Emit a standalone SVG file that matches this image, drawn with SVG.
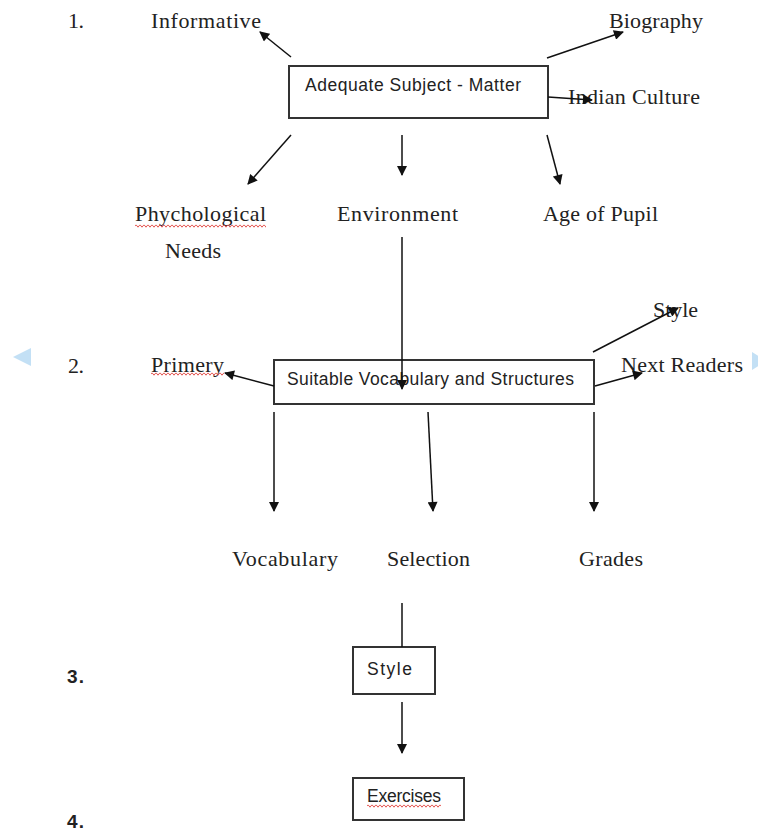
<svg xmlns="http://www.w3.org/2000/svg" width="758" height="832" viewBox="0 0 758 832">
  <style>
    .serif { font-family: "Liberation Serif", "Times New Roman", serif; font-size: 22px; fill: #222; }
    .boxtext { font-family: "Liberation Sans", Arial, sans-serif; font-size: 17.5px; fill: #222; }
    .num { font-family: "Liberation Sans", Arial, sans-serif; font-size: 19px; font-weight: bold; fill: #222; }
    .box { fill: #fff; stroke: #333; stroke-width: 2; }
    .conn { fill: none; stroke: #111; stroke-width: 1.5; }
    .arrow { marker-end: url(#head); }
    .squiggle { fill: url(#wave); }
  </style>
  <defs>
    <marker id="head" viewBox="0 0 10 10" refX="9" refY="5" markerWidth="11" markerHeight="10" markerUnits="userSpaceOnUse" orient="auto">
      <path d="M0,0 L10,5 L0,10 z" fill="#111"/>
    </marker>
    <pattern id="wave" width="4" height="4" patternUnits="userSpaceOnUse">
      <path d="M0,0.7 L2,3.2 L4,0.7" fill="none" stroke="#e0403a" stroke-width="0.9"/>
    </pattern>
  </defs>

  <rect width="758" height="832" fill="#fff"/>

  <!-- scroll hint triangles at the edges -->
  <polygon points="31,348 31,366 13,357" fill="#c3e0f5"/>
  <polygon points="752,352 766,361 752,370" fill="#c3e0f5"/>

  <!-- section numbers -->
  <text class="serif" x="68" y="28" textLength="16">1.</text>
  <text class="serif" x="68" y="373" textLength="16">2.</text>
  <text class="num" x="67" y="683" textLength="17">3.</text>
  <text class="num" x="67" y="828" textLength="17">4.</text>

  <!-- level 1 -->
  <g id="adequate-subject-matter">
    <rect class="box" x="289" y="66" width="259" height="52"/>
    <text class="boxtext" x="305" y="91" textLength="216">Adequate Subject - Matter</text>
  </g>
  <g id="informative">
    <text class="serif" x="151" y="28" textLength="110">Informative</text>
  </g>
  <g id="biography">
    <text class="serif" x="609" y="28" textLength="94">Biography</text>
  </g>
  <g id="indian-culture">
    <text class="serif" x="568" y="104" textLength="132">Indian Culture</text>
  </g>
  <g id="phychological-needs">
    <text class="serif" x="135" y="221" textLength="131">Phychological</text>
    <rect class="squiggle" x="135" y="224" width="131" height="4"/>
    <text class="serif" x="165" y="258" textLength="56">Needs</text>
  </g>
  <g id="environment">
    <text class="serif" x="337" y="221" textLength="121">Environment</text>
  </g>
  <g id="age-of-pupil">
    <text class="serif" x="543" y="221" textLength="115">Age of Pupil</text>
  </g>

  <!-- level 2 -->
  <g id="suitable-vocabulary">
    <rect class="box" x="274" y="360" width="320" height="44"/>
    <text class="boxtext" x="287" y="385" textLength="287">Suitable Vocabulary and Structures</text>
  </g>
  <g id="primery">
    <text class="serif" x="151" y="372" textLength="73">Primery</text>
    <rect class="squiggle" x="151" y="372" width="73" height="4"/>
  </g>
  <g id="style-branch">
    <text class="serif" x="653" y="317" textLength="45">Style</text>
  </g>
  <g id="next-readers">
    <text class="serif" x="621" y="372" textLength="122">Next Readers</text>
  </g>
  <g id="vocabulary">
    <text class="serif" x="232" y="566" textLength="106">Vocabulary</text>
  </g>
  <g id="selection">
    <text class="serif" x="387" y="566" textLength="83">Selection</text>
  </g>
  <g id="grades">
    <text class="serif" x="579" y="566" textLength="64">Grades</text>
  </g>

  <!-- level 3 and 4 -->
  <g id="style">
    <rect class="box" x="353" y="647" width="82" height="47"/>
    <text class="boxtext" x="367" y="675" textLength="45">Style</text>
  </g>
  <g id="exercises">
    <rect class="box" x="353" y="778" width="111" height="42"/>
    <text class="boxtext" x="367" y="802" textLength="74">Exercises</text>
    <rect class="squiggle" x="367" y="804" width="74" height="4"/>
  </g>

  <!-- connectors, drawn on top of the boxes and labels -->
  <g id="connectors">
    <line class="conn arrow" x1="291" y1="57" x2="260" y2="32"/>
    <line class="conn arrow" x1="547" y1="58" x2="623" y2="32"/>
    <line class="conn arrow" x1="548" y1="97" x2="592" y2="100"/>
    <line class="conn arrow" x1="291" y1="135" x2="248" y2="184"/>
    <line class="conn arrow" x1="402" y1="135" x2="402" y2="175"/>
    <line class="conn arrow" x1="547" y1="135" x2="560" y2="184"/>
    <line class="conn arrow" x1="402" y1="237" x2="402" y2="389"/>
    <line class="conn arrow" x1="274" y1="386" x2="225" y2="373"/>
    <line class="conn arrow" x1="593" y1="352" x2="678" y2="308"/>
    <line class="conn arrow" x1="595" y1="386" x2="642" y2="373"/>
    <line class="conn arrow" x1="274" y1="412" x2="274" y2="511"/>
    <line class="conn arrow" x1="428" y1="412" x2="433" y2="511"/>
    <line class="conn arrow" x1="594" y1="412" x2="594" y2="511"/>
    <line class="conn" x1="402" y1="603" x2="402" y2="647"/>
    <line class="conn arrow" x1="402" y1="702" x2="402" y2="753"/>
  </g>
</svg>
